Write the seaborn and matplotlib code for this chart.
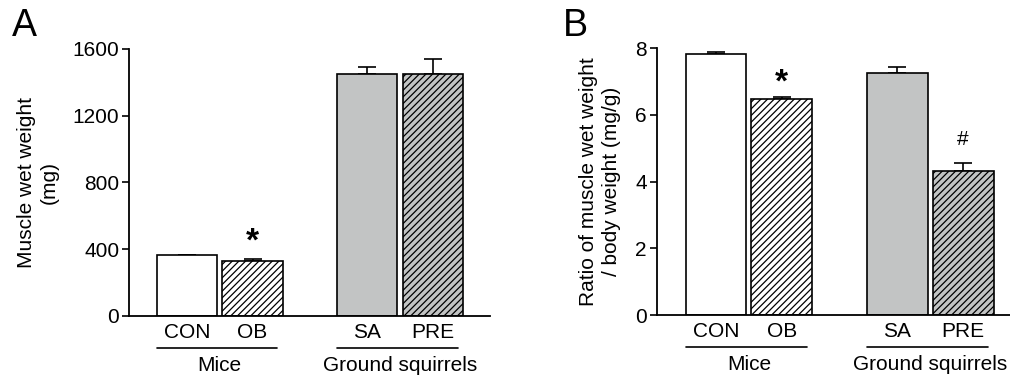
import pandas as pd
import matplotlib.pyplot as plt
import seaborn as sns

groups = ['CON', 'OB', 'SA', 'PRE']
species = ['Mice', 'Mice', 'Ground squirrels', 'Ground squirrels']
wet_weight = [364, 331, 1452, 1452]
wet_weight_err = [3, 9, 40, 90]
ratio = [7.82, 6.47, 7.26, 4.32]
ratio_err = [0.06, 0.08, 0.18, 0.23]

sns.set_theme(style='ticks')
plt.rcParams['font.family'] = ['Liberation Sans', 'DejaVu Sans']
plt.rcParams['hatch.linewidth'] = 0.9
plt.rcParams['text.color'] = 'black'
plt.rcParams['axes.labelcolor'] = 'black'
plt.rcParams['xtick.color'] = 'black'
plt.rcParams['ytick.color'] = 'black'
plt.rcParams['axes.edgecolor'] = 'black'

xpos = [0, 1, 2.75, 3.75]
fills = ['white', 'white', '#c2c4c4', '#c2c4c4']
hatches = ['', '/////', '', '/////']

fig = plt.figure(figsize=(10.1, 3.76), dpi=100)
axA = fig.add_axes([0.1277, 0.16, 0.3573, 0.71])
axB = fig.add_axes([0.650, 0.162, 0.350, 0.71])


def draw(ax, vals, errs, ymax, yticks, ylabel, xlim):
    df = pd.DataFrame({'x': xpos, 'value': vals, 'group': groups})
    sns.barplot(data=df, x='x', y='value', native_scale=True, width=0.92,
                color='white', edgecolor='black', linewidth=1.2, ax=ax,
                errorbar=None)
    for bar, fc, h in zip(ax.patches, fills, hatches):
        bar.set_facecolor(fc)
        bar.set_hatch(h)
    ax.errorbar(xpos, vals, yerr=[[0] * 4, errs], fmt='none', ecolor='black',
                elinewidth=1.2, capsize=6.5, capthick=1.2, zorder=0)
    ax.set_ylim(0, ymax)
    ax.set_xlim(*xlim)
    ax.set_yticks(yticks)
    ax.set_xticks(xpos)
    ax.set_xticklabels(groups)
    ax.tick_params(axis='x', length=0, labelsize=15, pad=5)
    ax.tick_params(axis='y', length=5, width=1.2, labelsize=15, pad=2)
    ax.set_xlabel('')
    ax.set_ylabel(ylabel, fontsize=15, linespacing=1.25, labelpad=10)
    sns.despine(ax=ax)
    for s in ['left', 'bottom']:
        ax.spines[s].set_linewidth(1.3)
    # group underline and label
    trans = ax.get_xaxis_transform()
    for (a, b), name in [((0, 1), 'Mice'), ((2.75, 3.75), 'Ground squirrels')]:
        ax.plot([a - 0.46, b + 0.38], [-0.12, -0.12], color='black', lw=1.2,
                transform=trans, clip_on=False)
        ax.text((a + b) / 2, -0.185, name, transform=trans, ha='center',
                va='center', fontsize=15)


draw(axA, wet_weight, wet_weight_err, 1600, [0, 400, 800, 1200, 1600],
     'Muscle wet weight\n(mg)', (-0.885, 4.62))
draw(axB, ratio, ratio_err, 8, [0, 2, 4, 6, 8],
     'Ratio of muscle wet weight\n/ body weight (mg/g)', (-0.9, 4.46))

axA.text(1, 440, '*', ha='center', va='center', fontsize=24, fontweight='bold')
axB.text(1, 6.95, '*', ha='center', va='center', fontsize=24, fontweight='bold')
axB.text(3.75, 5.25, '#', ha='center', va='center', fontsize=15)

fig.text(0.012, 0.93, 'A', fontsize=27, va='center')
fig.text(0.557, 0.93, 'B', fontsize=27, va='center')

plt.savefig('out.png', dpi=100)
